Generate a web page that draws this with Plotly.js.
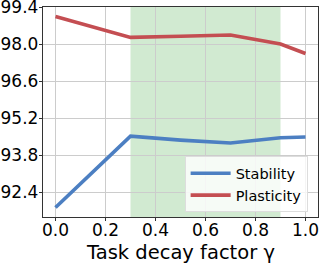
<!DOCTYPE html>
<html><head><meta charset="utf-8">
<script src="https://cdn.plot.ly/plotly-3.0.1.min.js"></script>
<style>html,body{margin:0;padding:0;background:#fff}#c{width:320px;height:263px}</style>
</head><body><div id="c"></div>
<script>
const gamma = [0.0, 0.3, 0.5, 0.7, 0.9, 1.0];
const stability = [91.83, 94.53, 94.38, 94.27, 94.47, 94.50];
const plasticity = [99.06, 98.27, 98.31, 98.36, 98.02, 97.66];
const seriesNames = ['Stability', 'Plasticity'];
const shadeRange = [0.3, 0.9];
const yTicks = [92.4, 93.8, 95.2, 96.6, 98.0, 99.4];
const xTicks = [0.0, 0.2, 0.4, 0.6, 0.8, 1.0];
const xTitle = 'Task decay factor γ';

const traces = [
  {x: gamma, y: stability, name: seriesNames[0], mode: 'lines', line: {color: '#4C7FC2', width: 3.6}},
  {x: gamma, y: plasticity, name: seriesNames[1], mode: 'lines', line: {color: '#C44E52', width: 3.6}}
];
const layout = {
  width: 320, height: 263,
  margin: {l: 43, r: 2, t: 7, b: 46},
  paper_bgcolor: '#fff', plot_bgcolor: '#fff',
  font: {family: 'DejaVu Sans', color: '#000'},
  showlegend: true,
  legend: {x: 0.515, y: 0.022, xanchor: 'left', yanchor: 'bottom', bgcolor: 'rgba(255,255,255,0.8)',
           bordercolor: '#ddd', borderwidth: 1, font: {size: 14.5, family: 'DejaVu Sans'}, itemwidth: 40, tracegroupgap: 2},
  xaxis: {range: [-0.05, 1.05], tickvals: xTicks, ticktext: xTicks.map(v => v.toFixed(1)),
          showgrid: true, gridcolor: '#cccccc', gridwidth: 1, zeroline: false,
          showline: true, linecolor: '#333', linewidth: 1.2, mirror: true,
          ticks: 'outside', ticklen: 3, tickcolor: '#333', tickfont: {size: 17},
          automargin: false, ticklabelstandoff: -6},
  yaxis: {range: [91.47, 99.42], tickvals: yTicks, ticktext: yTicks.map(v => v.toFixed(1)),
          showgrid: true, gridcolor: '#cccccc', gridwidth: 1, zeroline: false,
          showline: true, linecolor: '#333', linewidth: 1.2, mirror: true, automargin: false,
          ticks: 'outside', ticklen: 3, tickcolor: '#333', tickfont: {size: 17},
          ticklabelstandoff: -3, ticklabeloverflow: 'allow'},
  annotations: [{text: xTitle, xref: 'paper', yref: 'paper', x: 0.5, y: -0.167, xanchor: 'center', yanchor: 'middle',
                 showarrow: false, font: {size: 19.5, family: 'DejaVu Sans'}}],
  shapes: [{type: 'rect', xref: 'x', yref: 'paper', x0: shadeRange[0], x1: shadeRange[1], y0: 0, y1: 1,
            fillcolor: 'rgba(44,160,44,0.22)', line: {width: 0}, layer: 'below'}]
};
Plotly.newPlot('c', traces, layout, {staticPlot: true, displayModeBar: false});
</script></body></html>
